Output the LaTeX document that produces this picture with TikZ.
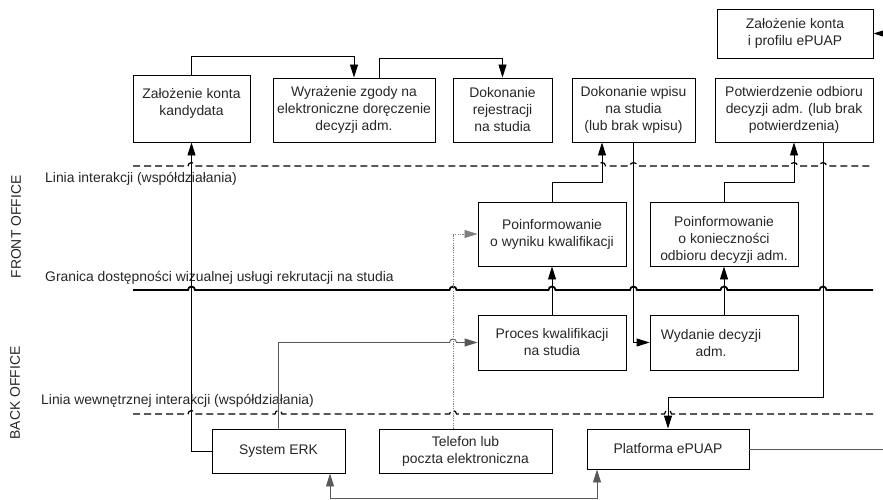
\documentclass[tikz,border=0pt]{standalone}
\usepackage{fontspec}
\setmainfont{Liberation Sans}
\usetikzlibrary{arrows.meta}
\newcommand\hopline[5]{%
  \draw[#1] (#3,#2) \foreach \h in {#5} { -- ({\h-3.5},#2) arc[start angle=180,end angle=0,radius=3.5pt] } -- (#4,#2);}
\begin{document}
\begin{tikzpicture}[x=1pt,y=-1pt,
  tip/.tip={Triangle[length=13pt,width=8pt]},
  box/.style={draw=black, line width=0.9pt, inner sep=0pt},
  txt/.style={align=center, inner sep=0pt, font=\fontsize{13.9}{17}\selectfont, text=black!85},
  lbl/.style={inner sep=0pt, font=\fontsize{13.9}{17}\selectfont, text=black!85},
  arr/.style={draw=black, line width=0.9pt, -tip},
  garr/.style={draw=black!65, line width=0.9pt, -tip},
  gline/.style={draw=black!65, line width=0.9pt},
  dotarr/.style={draw=black!50, line width=0.6pt, dash pattern=on 1.2pt off 1.2pt, -tip},
  sep/.style={draw=black, line width=1.2pt, dash pattern=on 7pt off 4pt},
  border/.style={draw=black, line width=1.8pt}
]
\useasboundingbox (0,0) rectangle (883,500);

% boxes
\node[box, minimum width=117pt, minimum height=67pt] (kand) at (191.5,108.5) {};
\node[txt] (kandT) at (191.5,103.5) {Założenie konta\\kandydata};
\node[box, txt, minimum width=162pt, minimum height=64pt] (wyr) at (354,110) {Wyrażenie zgody na\\elektroniczne doręczenie\\decyzji adm.};
\node[box, txt, minimum width=99pt, minimum height=64pt] (rej) at (502.5,110) {Dokonanie\\rejestracji\\na studia};
\node[box, txt, minimum width=123pt, minimum height=64pt] (wpis) at (633.5,110) {Dokonanie wpisu\\na studia\\(lub brak wpisu)};
\node[box, txt, minimum width=158pt, minimum height=64pt] (potw) at (794,110) {Potwierdzenie odbioru\\decyzji adm. (lub brak\\potwierdzenia)};
\node[box, txt, minimum width=156pt, minimum height=49pt] (prof) at (795,33.5) {Założenie konta\\i profilu ePUAP};
\node[box, txt, minimum width=148pt, minimum height=64pt] (info1) at (552,234) {Poinformowanie\\o wyniku kwalifikacji};
\node[box, minimum width=148pt, minimum height=64pt] (info2) at (724,234) {};
\node[txt] (info2T) at (724,239.5) {Poinformowanie\\o konieczności\\odbioru decyzji adm.};
\node[box, txt, minimum width=148pt, minimum height=55pt] (proc) at (552,342.5) {Proces kwalifikacji\\na studia};
\node[box, minimum width=148pt, minimum height=55pt] (wyd) at (724,342.5) {};
\node[txt] (wydT) at (711,343.5) {Wydanie decyzji\\adm.};
\node[box, txt, minimum width=133pt, minimum height=44pt] (erk) at (278.5,451) {System ERK};
\node[box, txt, minimum width=173pt, minimum height=44pt] (tel) at (465.5,451) {Telefon lub\\poczta elektroniczna};
\node[box, txt, minimum width=162pt, minimum height=40pt] (epuap) at (668,449) {Platforma ePUAP};

% separator lines with hops
\hopline{sep}{166}{133}{873}{191.5,602,633.5,794,823}
\hopline{border}{290}{133}{873}{191.5,453,552,633.5,724,823}
\hopline{sep}{414}{133}{873}{191.5,278.5,453,668}

% labels
\node[lbl, anchor=base west] (l1) at (45,182) {Linia interakcji (współdziałania)};
\node[lbl, anchor=base west] (l2) at (45,281) {Granica dostępności wizualnej usługi rekrutacji na studia};
\node[lbl, anchor=base west] (l3) at (41,404) {Linia wewnętrznej interakcji (współdziałania)};
\node[lbl, rotate=90] (fo) at (16,227) {FRONT OFFICE};
\node[lbl, rotate=90] (bo) at (15,393) {BACK OFFICE};

% connectors
\draw[arr] (erk.west) -| (kand.south);
\draw[arr] (kand.north) -- ++(0,-18) -| (wyr.north);
\draw[arr] ([xshift=25pt]wyr.north) -- ++(0,-19) -| (rej.north);
\draw[arr] (info1.north) -- ++(0,-19) -| ([xshift=-31.5pt]wpis.south);
\draw[arr] (wpis.south) |- (wyd.west);
\draw[arr] (info2.north) -- ++(0,-19) -| (potw.south);
\draw[arr] ([xshift=29pt]potw.south) |- ([yshift=31pt]epuap.north) -- (epuap.north);
\draw[arr] (proc.north) -- (info1.south);
\draw[arr] (wyd.north) -- (info2.south);
\coordinate (hA) at ([xshift=-12.5pt]tel.north |- proc.west);
\draw[garr] (erk.north) |- ([xshift=-3.5pt]hA) arc[start angle=180,end angle=0,radius=3.5pt] -- (proc.west);
\draw[dotarr] ([xshift=-12.5pt]tel.north) |- (info1.west);
\draw[gline, tip-tip] ([xshift=51.5pt]erk.south) -- ++(0,25) -| ([xshift=-71pt]epuap.south);
\coordinate (edgeE) at (883,449);
\coordinate (edgeP) at (883,33.5);
\draw[gline] (epuap.east) -- (edgeE);
\draw[arr] (edgeP) -- (prof.east);
\end{tikzpicture}
\end{document}
